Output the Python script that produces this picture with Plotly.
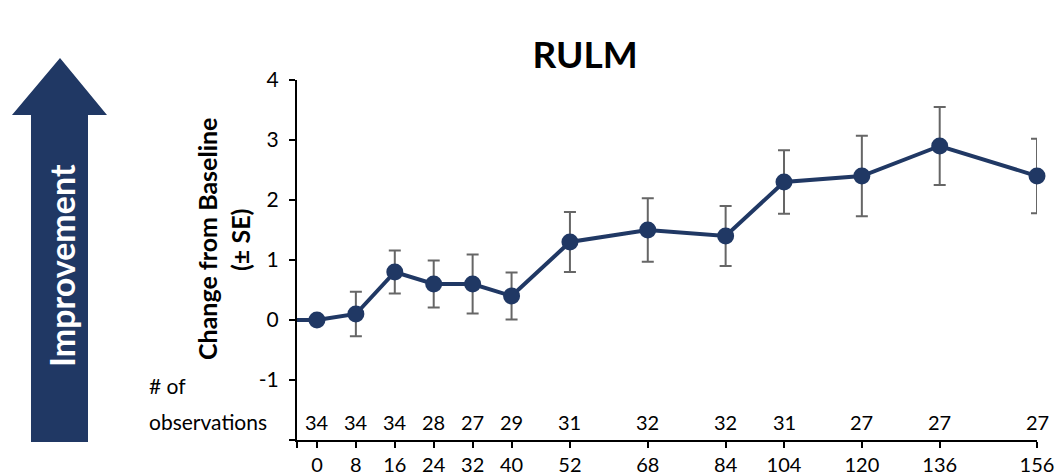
import plotly.graph_objects as go

# ---- data ----
week_labels = ["0", "8", "16", "24", "32", "40", "52", "68", "84", "104", "120", "136", "156"]
x_positions = [0, 8, 16, 24, 32, 40, 52, 68, 84, 96, 112, 128, 148]
change = [0.0, 0.1, 0.8, 0.6, 0.6, 0.4, 1.3, 1.5, 1.4, 2.3, 2.4, 2.9, 2.4]
se = [0.0, 0.37, 0.36, 0.39, 0.49, 0.39, 0.5, 0.53, 0.5, 0.53, 0.67, 0.65, 0.62]
n_obs = [34, 34, 34, 28, 27, 29, 31, 32, 32, 31, 27, 27, 27]
y_ticks = [-2, -1, 0, 1, 2, 3, 4]
y_tick_text = ["", "-1", "0", "1", "2", "3", "4"]

# ---- layout constants (screen pixels) ----
W, H = 1059, 476
PL, PR, PT, PB = 297, 1037, 80, 440
ML, MR, MT, MB = PL, W - PR, PT, H - PB
X_MIN, X_MAX = -4.1, 148
Y_MIN, Y_MAX = -2, 4
NAVY = "#203864"
FONT = "Lato"


def px_x(p):
    return (p - PL) / (PR - PL)


def px_y(p):
    return (PB - p) / (PB - PT)


fig = go.Figure()

# lead-in segment from the axis to the baseline point
fig.add_trace(go.Scatter(
    x=[X_MIN, x_positions[0]], y=[change[0], change[0]],
    mode="lines", line=dict(color=NAVY, width=4), hoverinfo="skip",
    showlegend=False, cliponaxis=False,
))

fig.add_trace(go.Scatter(
    x=x_positions, y=change, mode="lines+markers",
    line=dict(color=NAVY, width=4),
    marker=dict(color=NAVY, size=17),
    error_y=dict(type="data", array=se, visible=True, color="#666666",
                 thickness=2, width=6),
    showlegend=False, cliponaxis=False,
))

# observation counts
obs_y = (PB - 422) / (PB - PT) * (Y_MAX - Y_MIN) + Y_MIN
for xp, n in zip(x_positions, n_obs):
    fig.add_annotation(x=xp, y=obs_y, xref="x", yref="y", text=str(n),
                       xanchor="center", yanchor="middle",
                       showarrow=False, font=dict(size=20, color="#000000", family=FONT))

fig.add_annotation(x=px_x(147), y=px_y(385), xref="paper", yref="paper",
                   text="# of", xanchor="left", yanchor="middle", showarrow=False,
                   font=dict(size=21, color="#000000", family=FONT))
fig.add_annotation(x=px_x(147), y=px_y(421), xref="paper", yref="paper",
                   text="observations", xanchor="left", yanchor="middle", showarrow=False,
                   font=dict(size=21, color="#000000", family=FONT))

# y-axis title (two lines)
fig.add_annotation(x=px_x(207), y=px_y(239), xref="paper", yref="paper",
                   text="<b>Change from Baseline</b>", textangle=-90, showarrow=False,
                   xanchor="center", yanchor="middle",
                   font=dict(size=25, color="#000000", family=FONT))
fig.add_annotation(x=px_x(240), y=px_y(240), xref="paper", yref="paper",
                   text="<b>(± SE)</b>", textangle=-90, showarrow=False,
                   xanchor="center", yanchor="middle",
                   font=dict(size=25, color="#000000", family=FONT))

# improvement arrow
pts = [(60, 58), (107, 115), (88, 115), (88, 442), (31, 442), (31, 115), (12, 115)]
path = "M " + " L ".join(f"{px_x(a):.5f},{px_y(b):.5f}" for a, b in pts) + " Z"
fig.add_shape(type="path", path=path, xref="paper", yref="paper",
              fillcolor=NAVY, line=dict(width=0), layer="below")
fig.add_annotation(x=px_x(61), y=px_y(266), xref="paper", yref="paper",
                   text="<b>Improvement</b>", textangle=-90, showarrow=False,
                   xanchor="center", yanchor="middle",
                   font=dict(size=34, color="#ffffff", family=FONT))

fig.update_layout(
    width=W, height=H,
    margin=dict(l=ML, r=MR, t=MT, b=MB, autoexpand=False),
    paper_bgcolor="white", plot_bgcolor="white",
    title=dict(text="<b>RULM</b>", x=585 / W, xref="container", xanchor="center",
               y=1 - 55 / H, yref="container", yanchor="middle",
               font=dict(size=37, color="#000000", family=FONT)),
    font=dict(family=FONT, color="#000000"),
    xaxis=dict(range=[X_MIN, X_MAX], tickvals=[X_MIN] + x_positions,
               ticktext=[""] + week_labels, showline=True, linecolor="#000000",
               linewidth=2, ticks="outside", ticklen=6, tickwidth=2,
               tickcolor="#000000", showgrid=False, zeroline=False, automargin=False,
               tickfont=dict(size=20, family=FONT)),
    yaxis=dict(range=[Y_MIN, Y_MAX], tickvals=y_ticks, ticktext=y_tick_text,
               showline=True, linecolor="#000000", linewidth=2, ticks="outside",
               ticklen=6, tickwidth=2, tickcolor="#000000", showgrid=False,
               zeroline=False, automargin=False, ticklabelstandoff=6,
               tickfont=dict(size=21, family=FONT)),
)

fig.write_html("out.html", config={"displayModeBar": False},
               post_script="document.body.style.margin='0';")
